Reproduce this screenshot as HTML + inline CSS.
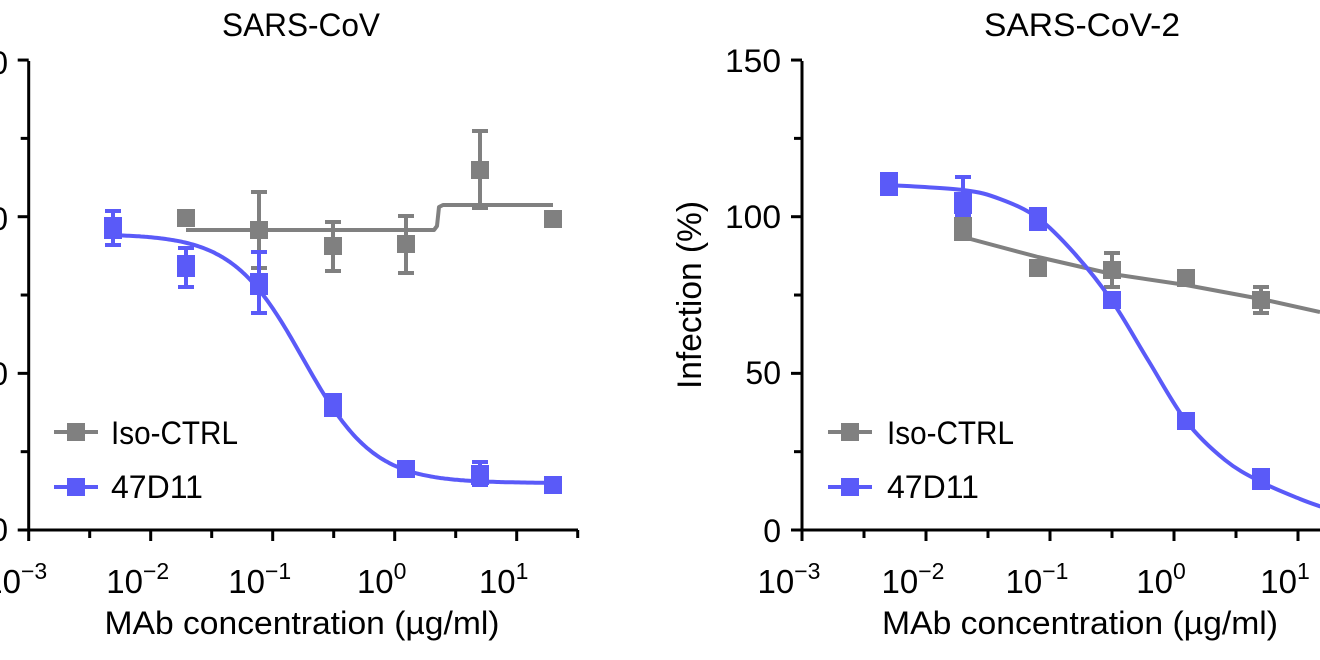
<!DOCTYPE html>
<html><head><meta charset="utf-8"><style>
html,body{margin:0;padding:0;background:#fff;}
svg{display:block;font-family:"Liberation Sans",Arial,sans-serif;}
</style></head><body>
<svg id="s" width="1320" height="660" viewBox="0 0 1320 660" xmlns="http://www.w3.org/2000/svg">
<g fill="#000" font-size="32">
<text x="301" y="36" text-anchor="middle" textLength="158" lengthAdjust="spacingAndGlyphs">SARS-CoV</text>
<text x="1082" y="36" text-anchor="middle" textLength="196" lengthAdjust="spacingAndGlyphs">SARS-CoV-2</text>
<text x="302" y="634" text-anchor="middle" textLength="395" lengthAdjust="spacingAndGlyphs">MAb concentration (µg/ml)</text>
<text x="1080" y="634" text-anchor="middle" textLength="396" lengthAdjust="spacingAndGlyphs">MAb concentration (µg/ml)</text>
<text transform="translate(701,295) rotate(-90)" text-anchor="middle" font-size="34" textLength="188" lengthAdjust="spacingAndGlyphs">Infection (%)</text>
<text x="8" y="74" text-anchor="end">150</text>
<text x="8" y="230" text-anchor="end">100</text>
<text x="8" y="385" text-anchor="end">50</text>
<text x="8" y="541" text-anchor="end">0</text>
<text x="781" y="72" text-anchor="end" textLength="56" lengthAdjust="spacingAndGlyphs">150</text>
<text x="781" y="228" text-anchor="end" textLength="56" lengthAdjust="spacingAndGlyphs">100</text>
<text x="781" y="384" text-anchor="end">50</text>
<text x="781" y="542" text-anchor="end">0</text>
<text x="111" y="444" textLength="127" lengthAdjust="spacingAndGlyphs">Iso-CTRL</text>
<text x="111" y="498">47D11</text>
<text x="887" y="444" textLength="127" lengthAdjust="spacingAndGlyphs">Iso-CTRL</text>
<text x="887" y="498">47D11</text>
</g>
<g id="ax" stroke="#000" stroke-width="3" fill="none"></g>
<g id="dat"></g>
<g id="xl" font-size="33" fill="#000"></g>
</svg>
<script>
var NS="http://www.w3.org/2000/svg";
function el(p,t,a,txt){var e=document.createElementNS(NS,t);for(var k in a)e.setAttribute(k,a[k]);if(txt!=null)e.textContent=txt;p.appendChild(e);return e;}
var ax=document.getElementById('ax'),dat=document.getElementById('dat'),xl=document.getElementById('xl');
var Y=function(v){return 530-v*3.133;};
function axes(x0,dec,xend){
  el(ax,'path',{d:'M'+x0+' 61V530H'+xend});
  for(var i=0;i<=6;i++){var y=Y(i*25);el(ax,'path',{d:'M'+(x0-(i%2==0?11:8))+' '+y+'H'+x0});}
  for(var i=0;i<10;i++){var x=x0+i*dec/2;if(x>1320)break;el(ax,'path',{d:'M'+x+' 530V'+(530+(i%2==0?11:8))});}
  for(var e=-3;e<=1;e++){var x=x0+(e+3)*dec;var t=el(xl,'text',{x:x-13,y:593,'text-anchor':'middle'});
    t.textContent='10';var s=el(t,'tspan',{dy:-14,'font-size':23});s.textContent=(e<0?'\u2212'+(-e):''+e);}
}
axes(28.7,122,578);
axes(802,124,1330);
var BLUE='#5a5af8',GRAY='#808080',SW=4;
function path(pts,c){var d='';pts.forEach(function(p,i){d+=(i?'L':'M')+p[0].toFixed(1)+' '+p[1].toFixed(1);});
  el(dat,'path',{d:d,stroke:c,'stroke-width':SW,fill:'none','stroke-linejoin':'round'});}
function sq(x,y,c,h){h=h||18;el(dat,'rect',{x:x-9,y:y-h/2,width:18,height:h,fill:c});}
function eb(x,t,b,c){el(dat,'path',{d:'M'+x+' '+t+'V'+b+'M'+(x-8)+' '+t+'H'+(x+8)+'M'+(x-8)+' '+b+'H'+(x+8),stroke:c,'stroke-width':SW,fill:'none'});}
function curve(fx,xa,xb,fn){var p=[];for(var x=xa;x<=xb;x+=2){var lc=(x-fx[0])/fx[1];p.push([x,Y(fn(Math.pow(10,lc)))]);}return p;}
path([[186,230],[434,230],[437,226],[439,207],[443,205],[553,205]],GRAY);
eb(259,192,268,GRAY);eb(333,222,271,GRAY);eb(406,216,273,GRAY);eb(480,131,208,GRAY);
sq(186,218,GRAY);sq(259,230,GRAY);sq(333,246,GRAY);sq(406,244,GRAY);sq(480,170,GRAY);sq(553,219,GRAY);
path(curve([394,122.3],113,553,function(c){return 15+79.5/(1+Math.pow(c/0.18,1.5));}),BLUE);
eb(113,211,245,BLUE);eb(186,248,287,BLUE);eb(259,252,313,BLUE);eb(480,462,485,BLUE);
sq(113,228,BLUE,22);sq(186,266,BLUE,22);sq(259,284,BLUE,22);sq(333,405,BLUE,24);sq(406,469,BLUE);sq(480,475,BLUE,20);sq(553,485,BLUE);
path([[963,237],[1038,257],[1112,274],[1186,285],[1261,299],[1320,312]],GRAY);
eb(1112,253,287,GRAY);eb(1261,287,313,GRAY);
sq(963,229,GRAY,24);sq(1038,268,GRAY);sq(1112,270,GRAY);sq(1186,278,GRAY);sq(1261,300,GRAY);
(function(){var P=[[889,185],[963,190],[1000,199],[1038,218],[1075,254],[1112,301],[1148,360],[1186,421],[1225,460],[1261,482],[1300,499],[1322,507]];
var d='M'+P[0][0]+' '+P[0][1];
for(var i=0;i<P.length-1;i++){var p0=P[i-1]||P[i],p1=P[i],p2=P[i+1],p3=P[i+2]||P[i+1];
d+='C'+(p1[0]+(p2[0]-p0[0])/6)+' '+(p1[1]+(p2[1]-p0[1])/6)+' '+(p2[0]-(p3[0]-p1[0])/6)+' '+(p2[1]-(p3[1]-p1[1])/6)+' '+p2[0]+' '+p2[1];}
el(dat,'path',{d:d,stroke:BLUE,'stroke-width':SW,fill:'none'});})();
eb(963,177,215,BLUE);
sq(889,184,BLUE,24);sq(963,203,BLUE,22);sq(1038,219,BLUE,24);sq(1112,300,BLUE);sq(1186,421,BLUE);sq(1261,479,BLUE,22);
function leg(x,y,c){el(dat,'path',{d:'M'+(x-22)+' '+y+'H'+(x+22),stroke:c,'stroke-width':SW});sq(x,y,c);}
leg(76,432,GRAY);leg(76,487,BLUE);leg(850,432,GRAY);leg(850,487,BLUE);
</script>
</body></html>
